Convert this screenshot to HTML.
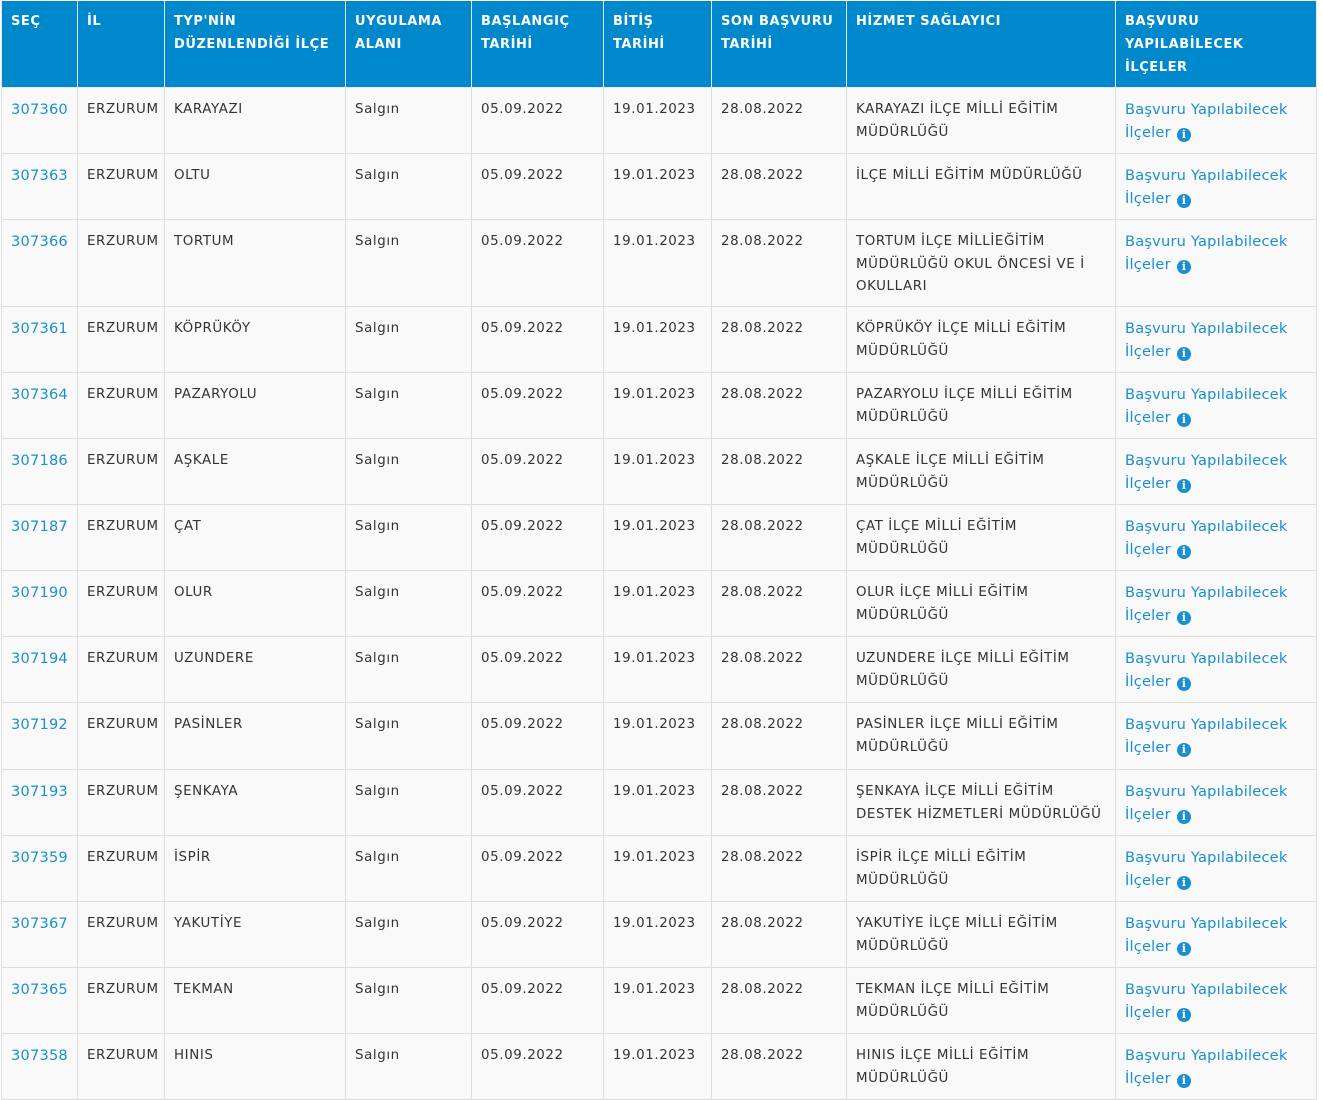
<!DOCTYPE html>
<html><head><meta charset="utf-8"><style>
body{margin:0;background:#fff;width:1323px;height:1093px;overflow:hidden}
table{position:absolute;left:1px;top:1px;border-collapse:collapse;table-layout:fixed;width:1315px;font-family:"DejaVu Sans",Verdana,sans-serif;font-size:13.4px;color:#333}
th{background:#0088cc;color:#fff;font-weight:bold;text-align:left;vertical-align:top;padding:9px 9px 0;line-height:23px;height:77px;border:1px solid #e8e8e8;border-top:none;font-size:13px;letter-spacing:0.55px}
td{background:#f9f9f9;vertical-align:top;padding:11px 9px 0;line-height:22.5px;border:1px solid #ddd;height:54px;letter-spacing:0.6px}
td.l{color:#1a8fd1;font-size:14.6px;letter-spacing:0.2px}
td.n{letter-spacing:0.3px}
.i{display:inline-block;width:14px;height:14px;border-radius:50%;background:#1a8fd1;color:#fff;font:bold 11px/14px "DejaVu Serif",serif;text-align:center;vertical-align:-1px;margin-left:6px;letter-spacing:0}
</style></head><body>
<table>
<colgroup><col style="width:76px"><col style="width:87px"><col style="width:181px"><col style="width:126px"><col style="width:132px"><col style="width:108px"><col style="width:135px"><col style="width:269px"><col style="width:201px"></colgroup>
<tr><th>SEÇ</th><th>İL</th><th>TYP'NİN DÜZENLENDİĞİ İLÇE</th><th>UYGULAMA ALANI</th><th>BAŞLANGIÇ TARİHİ</th><th>BİTİŞ TARİHİ</th><th>SON BAŞVURU TARİHİ</th><th>HİZMET SAĞLAYICI</th><th>BAŞVURU YAPILABİLECEK İLÇELER</th></tr>
<tr><td class="l">307360</td><td>ERZURUM</td><td>KARAYAZI</td><td>Salgın</td><td>05.09.2022</td><td>19.01.2023</td><td>28.08.2022</td><td>KARAYAZI İLÇE MİLLİ EĞİTİM MÜDÜRLÜĞÜ</td><td class="l">Başvuru Yapılabilecek İlçeler<span class="i">i</span></td></tr>
<tr><td class="l">307363</td><td>ERZURUM</td><td>OLTU</td><td>Salgın</td><td>05.09.2022</td><td>19.01.2023</td><td>28.08.2022</td><td>İLÇE MİLLİ EĞİTİM MÜDÜRLÜĞÜ</td><td class="l">Başvuru Yapılabilecek İlçeler<span class="i">i</span></td></tr>
<tr><td class="l" style="height:75px">307366</td><td>ERZURUM</td><td>TORTUM</td><td>Salgın</td><td>05.09.2022</td><td>19.01.2023</td><td>28.08.2022</td><td>TORTUM İLÇE MİLLİEĞİTİM MÜDÜRLÜĞÜ OKUL ÖNCESİ VE İ OKULLARI</td><td class="l">Başvuru Yapılabilecek İlçeler<span class="i">i</span></td></tr>
<tr><td class="l">307361</td><td>ERZURUM</td><td>KÖPRÜKÖY</td><td>Salgın</td><td>05.09.2022</td><td>19.01.2023</td><td>28.08.2022</td><td>KÖPRÜKÖY İLÇE MİLLİ EĞİTİM MÜDÜRLÜĞÜ</td><td class="l">Başvuru Yapılabilecek İlçeler<span class="i">i</span></td></tr>
<tr><td class="l">307364</td><td>ERZURUM</td><td>PAZARYOLU</td><td>Salgın</td><td>05.09.2022</td><td>19.01.2023</td><td>28.08.2022</td><td>PAZARYOLU İLÇE MİLLİ EĞİTİM MÜDÜRLÜĞÜ</td><td class="l">Başvuru Yapılabilecek İlçeler<span class="i">i</span></td></tr>
<tr><td class="l">307186</td><td>ERZURUM</td><td>AŞKALE</td><td>Salgın</td><td>05.09.2022</td><td>19.01.2023</td><td>28.08.2022</td><td>AŞKALE İLÇE MİLLİ EĞİTİM MÜDÜRLÜĞÜ</td><td class="l">Başvuru Yapılabilecek İlçeler<span class="i">i</span></td></tr>
<tr><td class="l">307187</td><td>ERZURUM</td><td>ÇAT</td><td>Salgın</td><td>05.09.2022</td><td>19.01.2023</td><td>28.08.2022</td><td>ÇAT İLÇE MİLLİ EĞİTİM MÜDÜRLÜĞÜ</td><td class="l">Başvuru Yapılabilecek İlçeler<span class="i">i</span></td></tr>
<tr><td class="l">307190</td><td>ERZURUM</td><td>OLUR</td><td>Salgın</td><td>05.09.2022</td><td>19.01.2023</td><td>28.08.2022</td><td>OLUR İLÇE MİLLİ EĞİTİM MÜDÜRLÜĞÜ</td><td class="l">Başvuru Yapılabilecek İlçeler<span class="i">i</span></td></tr>
<tr><td class="l">307194</td><td>ERZURUM</td><td>UZUNDERE</td><td>Salgın</td><td>05.09.2022</td><td>19.01.2023</td><td>28.08.2022</td><td>UZUNDERE İLÇE MİLLİ EĞİTİM MÜDÜRLÜĞÜ</td><td class="l">Başvuru Yapılabilecek İlçeler<span class="i">i</span></td></tr>
<tr><td class="l" style="height:55px">307192</td><td>ERZURUM</td><td>PASİNLER</td><td>Salgın</td><td>05.09.2022</td><td>19.01.2023</td><td>28.08.2022</td><td>PASİNLER İLÇE MİLLİ EĞİTİM MÜDÜRLÜĞÜ</td><td class="l">Başvuru Yapılabilecek İlçeler<span class="i">i</span></td></tr>
<tr><td class="l">307193</td><td>ERZURUM</td><td>ŞENKAYA</td><td>Salgın</td><td>05.09.2022</td><td>19.01.2023</td><td>28.08.2022</td><td>ŞENKAYA İLÇE MİLLİ EĞİTİM DESTEK HİZMETLERİ MÜDÜRLÜĞÜ</td><td class="l">Başvuru Yapılabilecek İlçeler<span class="i">i</span></td></tr>
<tr><td class="l">307359</td><td>ERZURUM</td><td>İSPİR</td><td>Salgın</td><td>05.09.2022</td><td>19.01.2023</td><td>28.08.2022</td><td>İSPİR İLÇE MİLLİ EĞİTİM MÜDÜRLÜĞÜ</td><td class="l">Başvuru Yapılabilecek İlçeler<span class="i">i</span></td></tr>
<tr><td class="l">307367</td><td>ERZURUM</td><td>YAKUTİYE</td><td>Salgın</td><td>05.09.2022</td><td>19.01.2023</td><td>28.08.2022</td><td>YAKUTİYE İLÇE MİLLİ EĞİTİM MÜDÜRLÜĞÜ</td><td class="l">Başvuru Yapılabilecek İlçeler<span class="i">i</span></td></tr>
<tr><td class="l">307365</td><td>ERZURUM</td><td>TEKMAN</td><td>Salgın</td><td>05.09.2022</td><td>19.01.2023</td><td>28.08.2022</td><td>TEKMAN İLÇE MİLLİ EĞİTİM MÜDÜRLÜĞÜ</td><td class="l">Başvuru Yapılabilecek İlçeler<span class="i">i</span></td></tr>
<tr><td class="l">307358</td><td>ERZURUM</td><td>HINIS</td><td>Salgın</td><td>05.09.2022</td><td>19.01.2023</td><td>28.08.2022</td><td>HINIS İLÇE MİLLİ EĞİTİM MÜDÜRLÜĞÜ</td><td class="l">Başvuru Yapılabilecek İlçeler<span class="i">i</span></td></tr>
</table>
</body></html>
